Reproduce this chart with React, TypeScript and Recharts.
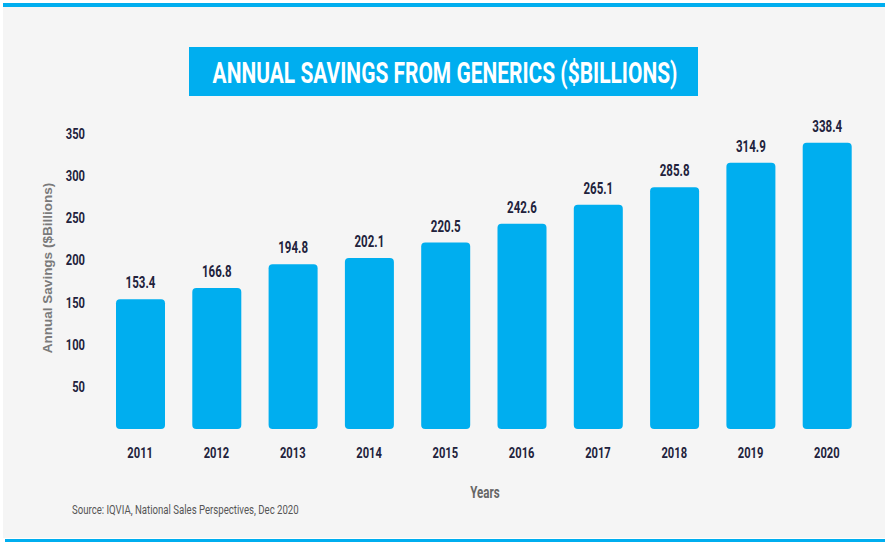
import { BarChart, Bar, XAxis, YAxis, LabelList } from "recharts";

const years = ["2011", "2012", "2013", "2014", "2015", "2016", "2017", "2018", "2019", "2020"];
const savings = [153.4, 166.8, 194.8, 202.1, 220.5, 242.6, 265.1, 285.8, 314.9, 338.4];
const yTicks = [50, 100, 150, 200, 250, 300, 350];

const data = years.map((year, i) => ({ year, savings: savings[i] }));

const BLUE = "#00aeef";
const INK = "#22223c";
const FONT = "Roboto, 'DejaVu Sans', sans-serif";

// condensed look: Roboto squeezed horizontally
function Narrow({ x, y, anchor = "middle", size = 15.5, fill = INK, weight = 700, sx = 0.72, children }: any) {
  return (
    <text
      transform={`translate(${x} ${y}) scale(${sx} 1)`}
      textAnchor={anchor}
      fill={fill}
      fontFamily={FONT}
      fontWeight={weight}
      fontSize={size}
    >
      {children}
    </text>
  );
}

const XTick = (props: any) => (
  <Narrow x={props.x} y={props.y + 11}>
    {props.payload.value}
  </Narrow>
);

const YTick = (props: any) => (
  <Narrow x={props.x} y={props.y + 5.5} anchor="end">
    {props.payload.value}
  </Narrow>
);

const ValueLabel = (props: any) => (
  <Narrow x={props.x + props.width / 2} y={props.y - 11} size={16}>
    {Number(props.value).toFixed(1)}
  </Narrow>
);

export default function App() {
  return (
    <div style={{ position: "absolute", top: 0, left: 0, width: 885, height: 542, background: "#fff" }}>
      <svg width={885} height={542} style={{ position: "absolute", top: 0, left: 0 }}>
        <rect x={3} y={3} width={882} height={535} fill="#f5f5f5" />
        <rect x={3} y={3} width={882} height={4} fill={BLUE} />
        <rect x={5} y={539} width={880} height={3} fill={BLUE} />
        <rect x={189} y={47} width={509} height={49} fill={BLUE} />
        <Narrow x={445} y={83} size={29.5} fill="#fff" sx={0.71}>
          ANNUAL SAVINGS FROM GENERICS ($BILLIONS)
        </Narrow>
        <text
          transform="translate(52 268) rotate(-90)"
          textAnchor="middle"
          fill="#7a7a7a"
          fontFamily="'Liberation Sans', Arial, sans-serif"
          fontWeight={700}
          fontSize={13.5}
        >
          Annual Savings ($Billions)
        </text>
        <Narrow x={485} y={498} size={16.5} fill="#666" sx={0.7}>
          Years
        </Narrow>
        <Narrow x={72} y={514} anchor="start" size={12.5} fill="#555" weight={400} sx={0.77}>
          Source: IQVIA, National Sales Perspectives, Dec 2020
        </Narrow>
      </svg>
      <div style={{ position: "absolute", top: 0, left: 0 }}>
        <BarChart width={885} height={542} data={data} margin={{ top: 133, right: 20, bottom: 83, left: 0 }}>
          <XAxis
            dataKey="year"
            height={30}
            axisLine={false}
            tickLine={false}
            tickSize={0}
            tickMargin={18}
            tick={XTick}
          />
          <YAxis
            width={102}
            domain={[0, 350]}
            ticks={yTicks}
            axisLine={false}
            tickLine={false}
            tickSize={0}
            tickMargin={17}
            tick={YTick}
          />
          <Bar dataKey="savings" fill={BLUE} barSize={49} radius={[4, 4, 4, 4]} isAnimationActive={false}>
            <LabelList dataKey="savings" content={ValueLabel} />
          </Bar>
        </BarChart>
      </div>
    </div>
  );
}
